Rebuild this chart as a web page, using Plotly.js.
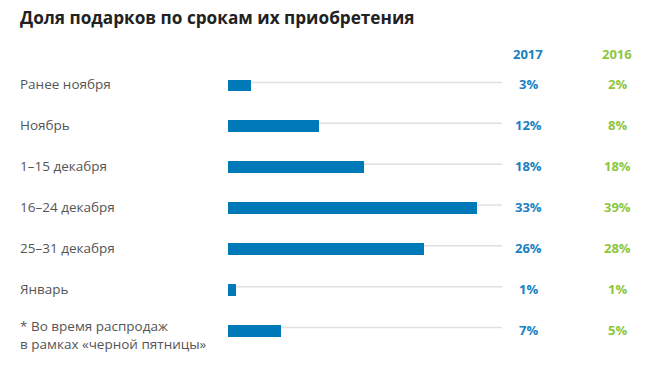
<!DOCTYPE html>
<html>
<head>
<meta charset="utf-8">
<script src="https://cdn.plot.ly/plotly-3.0.1.min.js"></script>
<style>
  html, body { margin: 0; padding: 0; background: #fff; }
  #chart { width: 656px; height: 384px; }
</style>
</head>
<body>
<div id="chart"></div>
<script>
// ---- Data ----
const categories = [
  "Ранее ноября",
  "Ноябрь",
  "1–15 декабря",
  "16–24 декабря",
  "25–31 декабря",
  "Январь",
  "* Во время распродаж<br>в рамках «черной пятницы»"
];
const values2017 = [3, 12, 18, 33, 26, 1, 7];
const values2016 = [2, 8, 18, 39, 28, 1, 5];
const seriesNames = ["2017", "2016"];

// ---- Styles ----
const BLUE = "#0079b8";
const BLUE_TXT = "#1a7fc1";
const GREEN = "#8cc63f";
const LABEL = "#555555";
const FONT = "Open Sans, sans-serif";

// pixel helpers for paper coordinates
const W = 656, H = 384;
const ML = 228, MR = 154, MT = 64.5, MB = 32.5;
const plotW = W - ML - MR;
const px2paperX = px => (px - ML) / plotW;
const plotH = H - MT - MB;
const px2paperY = py => (H - MB - py) / plotH;

const barTrace = {
  type: "bar",
  orientation: "h",
  x: values2017,
  y: categories,
  marker: { color: BLUE },
  width: 0.29,
  hoverinfo: "skip",
  showlegend: false
};

const annotations = [];
categories.forEach((c, i) => {
  annotations.push({
    xref: "paper", yref: "y",
    x: px2paperX(18), y: c,
    xanchor: "left", yanchor: "middle",
    yshift: c.includes("<br>") ? -4 : 1,
    align: "left",
    text: c,
    showarrow: false,
    font: { family: FONT, size: 13.5, color: LABEL }
  });
  annotations.push({
    xref: "paper", yref: "y",
    x: px2paperX(528), y: c,
    xanchor: "center", yanchor: "middle",
    yshift: 1,
    text: "<b>" + values2017[i] + "%</b>",
    showarrow: false,
    font: { family: FONT, size: 13, color: BLUE_TXT }
  });
  annotations.push({
    xref: "paper", yref: "y",
    x: px2paperX(617), y: c,
    xanchor: "center", yanchor: "middle",
    yshift: 1,
    text: "<b>" + values2016[i] + "%</b>",
    showarrow: false,
    font: { family: FONT, size: 13, color: GREEN }
  });
});
annotations.push({
  xref: "paper", yref: "paper",
  x: px2paperX(528), y: px2paperY(53),
  xanchor: "center", yanchor: "middle",
  text: "<b>" + seriesNames[0] + "</b>", showarrow: false,
  font: { family: FONT, size: 13, color: BLUE_TXT }
});
annotations.push({
  xref: "paper", yref: "paper",
  x: px2paperX(617), y: px2paperY(53),
  xanchor: "center", yanchor: "middle",
  text: "<b>" + seriesNames[1] + "</b>", showarrow: false,
  font: { family: FONT, size: 13, color: GREEN }
});

const shapes = categories.map((c, i) => ({
  type: "line", layer: "below",
  xref: "paper", x0: 0, x1: 1,
  yref: "y", ysizemode: "pixel", yanchor: i, y0: 3, y1: 3,
  line: { color: "#e0e0e0", width: 1.5 }
}));

const layout = {
  width: W, height: H,
  margin: { l: ML, r: MR, t: MT, b: MB, pad: 0 },
  paper_bgcolor: "#fff", plot_bgcolor: "#fff",
  title: {
    text: "<b>Доля подарков по срокам их приобретения</b>",
    x: 20 / W, xanchor: "left", xref: "container",
    y: 1 - 18 / H, yanchor: "middle", yref: "container",
    font: { family: FONT, size: 17.2, color: "#222222" }
  },
  xaxis: {
    range: [0, plotW / 7.55],
    visible: false, fixedrange: true
  },
  yaxis: {
    type: "category",
    autorange: "reversed",
    showticklabels: false, showgrid: false, zeroline: false,
    showline: false, ticks: "", fixedrange: true
  },
  bargap: 0,
  annotations: annotations,
  shapes: shapes,
  showlegend: false
};

Plotly.newPlot("chart", [barTrace], layout, { displayModeBar: false, staticPlot: true });
</script>
</body>
</html>
